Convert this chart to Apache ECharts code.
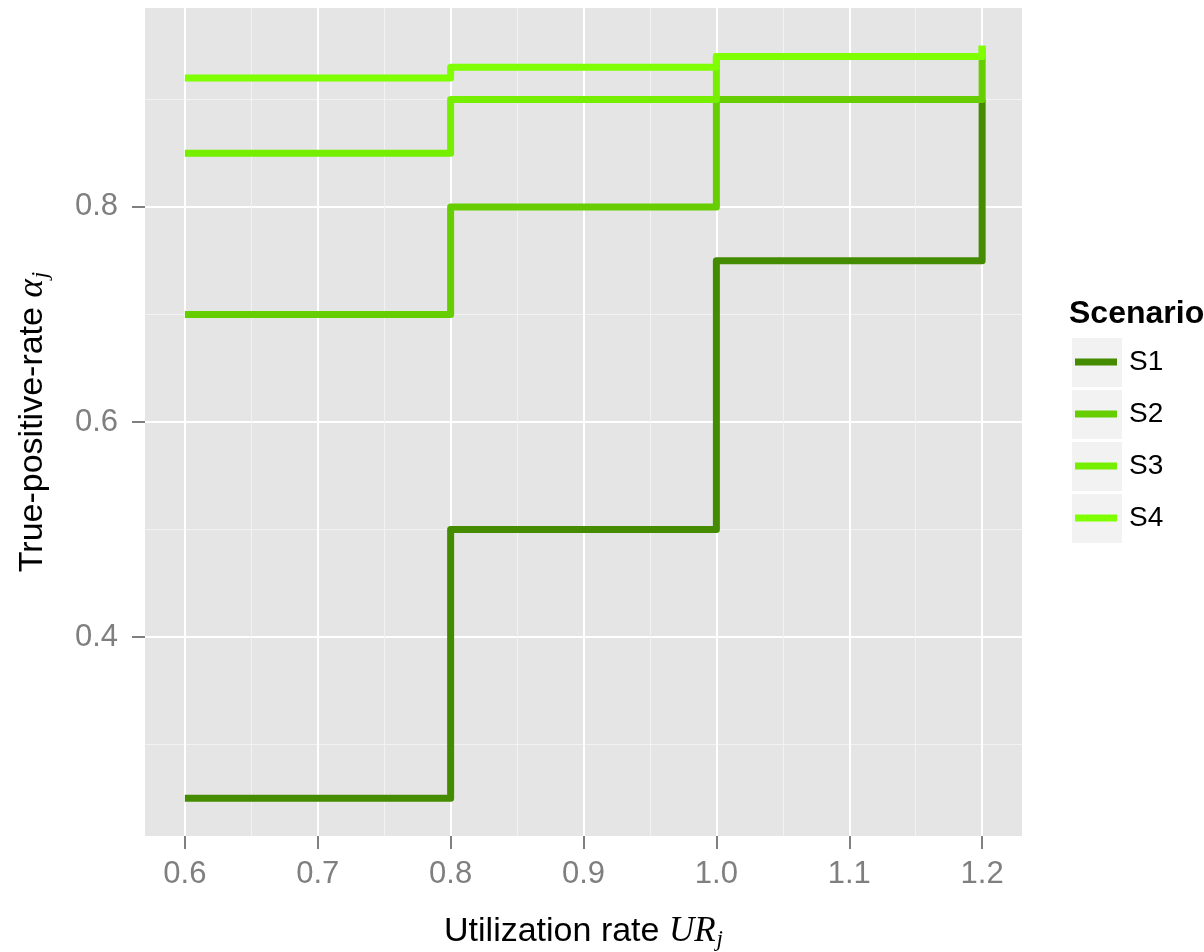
<!DOCTYPE html>
<html><head><meta charset="utf-8">
<script src="https://cdn.jsdelivr.net/npm/echarts@6/dist/echarts.min.js"></script>
<style>html,body{margin:0;padding:0;background:#fff}#c{width:1204px;height:952px}</style>
</head><body><div id="c"></div>
<script>
const utilization = [0.6, 0.8, 1.0, 1.2];
const scenarios = ['S1', 'S2', 'S3', 'S4'];
const s1 = [0.25, 0.50, 0.75, 0.90];
const s2 = [0.70, 0.80, 0.90, 0.94];
const s3 = [0.85, 0.90, 0.94, 0.95];
const s4 = [0.92, 0.93, 0.94, 0.95];
const xMajorTicks = [0.6, 0.7, 0.8, 0.9, 1.0, 1.1, 1.2];
const xMinorTicks = [0.65, 0.75, 0.85, 0.95, 1.05, 1.15];
const yMajorTicks = [0.4, 0.6, 0.8];
const yMinorTicks = [0.3, 0.5, 0.7, 0.9];
const colors = ['#458B00', '#66CD00', '#76EE00', '#7FFF00'];
const seriesValues = [s1, s2, s3, s4];

// ggplot-style 5% expansion of data range
const allY = [].concat(s1, s2, s3, s4);
const xr = [Math.min(...utilization), Math.max(...utilization)];
const yr = [Math.min(...allY), Math.max(...allY)];
const xPad = (xr[1] - xr[0]) * 0.05, yPad = (yr[1] - yr[0]) * 0.05;
const xMin = xr[0] - xPad, xMax = xr[1] + xPad;
const yMin = yr[0] - yPad, yMax = yr[1] + yPad;

const FONT = 'Liberation Sans';
const SERIF = 'Liberation Serif';
const fmt = v => Number(v).toFixed(1);

const chart = echarts.init(document.getElementById('c'), null, {renderer: 'canvas'});

const minorAxis = (vals, pos, mn, mx) => ({
  type: 'value', min: mn, max: mx, position: pos, offset: 0,
  axisLine: {show: false}, axisLabel: {show: false, customValues: vals},
  axisTick: {show: false, customValues: vals},
  splitLine: {show: true, lineStyle: {color: '#F2F2F2', width: 1}}
});

const legendTop = 348, legendGap = 52;
const nameRich = {
  t: {fontFamily: FONT, fontSize: 34, color: '#000'},
  m: {fontFamily: SERIF, fontStyle: 'italic', fontSize: 35, color: '#000'},
  s: {fontFamily: SERIF, fontStyle: 'italic', fontSize: 23, color: '#000', padding: [16, 0, 0, 1]}
};

const option = {
  animation: false,
  backgroundColor: '#ffffff',
  color: colors,
  title: {
    text: 'Scenario', left: 1069, top: 298, padding: 0,
    textStyle: {fontFamily: FONT, fontSize: 32, fontWeight: 'bold', color: '#000'}
  },
  grid: {left: 145, right: 182, top: 8, bottom: 116, show: true, backgroundColor: '#E5E5E5', borderWidth: 0,
         containLabel: false, outerBoundsMode: 'none'},
  xAxis: [
    minorAxis(xMinorTicks, 'bottom', xMin, xMax),
    {
      type: 'value', min: xMin, max: xMax, position: 'bottom', offset: 0,
      name: '{t|Utilization rate }{m|UR}{s|j}',
      nameLocation: 'middle', nameGap: 76,
      nameTextStyle: {rich: nameRich},
      axisLine: {show: false},
      axisTick: {show: true, length: 13, customValues: xMajorTicks, lineStyle: {color: '#7F7F7F', width: 2}},
      axisLabel: {customValues: xMajorTicks, formatter: fmt, margin: 23, fontFamily: FONT, fontSize: 31, color: '#7F7F7F'},
      splitLine: {show: true, lineStyle: {color: '#FFFFFF', width: 2}}
    }
  ],
  yAxis: [
    minorAxis(yMinorTicks, 'left', yMin, yMax),
    {
      type: 'value', min: yMin, max: yMax, position: 'left', offset: 0,
      name: '{t|True-positive-rate }{m|α}{s|j}',
      nameLocation: 'middle', nameGap: 93, nameRotate: 90,
      nameTextStyle: {rich: nameRich},
      axisLine: {show: false},
      axisTick: {show: true, length: 13, customValues: yMajorTicks, lineStyle: {color: '#7F7F7F', width: 2}},
      axisLabel: {customValues: yMajorTicks, formatter: fmt, margin: 27, fontFamily: FONT, fontSize: 31, color: '#7F7F7F'},
      splitLine: {show: true, lineStyle: {color: '#FFFFFF', width: 2}}
    }
  ],
  legend: {
    orient: 'vertical', left: 1075, top: legendTop, padding: 0,
    itemWidth: 42, itemHeight: 7, itemGap: legendGap - 28, icon: 'rect',
    textStyle: {fontFamily: FONT, fontSize: 28, color: '#000', padding: [0, 0, 0, 7], lineHeight: 28},
    data: scenarios
  },
  graphic: scenarios.map((s, i) => ({
    type: 'rect', z: -1, silent: true,
    shape: {x: 1072, y: legendTop - 10 + i * legendGap, width: 50, height: 49},
    style: {fill: '#F2F2F2'}
  })),
  series: scenarios.map((name, i) => ({
    name, type: 'line', step: 'end', xAxisIndex: 1, yAxisIndex: 1,
    showSymbol: false, symbol: 'none',
    lineStyle: {width: 7, color: colors[i], cap: 'butt', join: 'round'},
    itemStyle: {color: colors[i]},
    data: utilization.map((x, j) => [x, seriesValues[i][j]])
  }))
};
chart.setOption(option);
</script></body></html>
